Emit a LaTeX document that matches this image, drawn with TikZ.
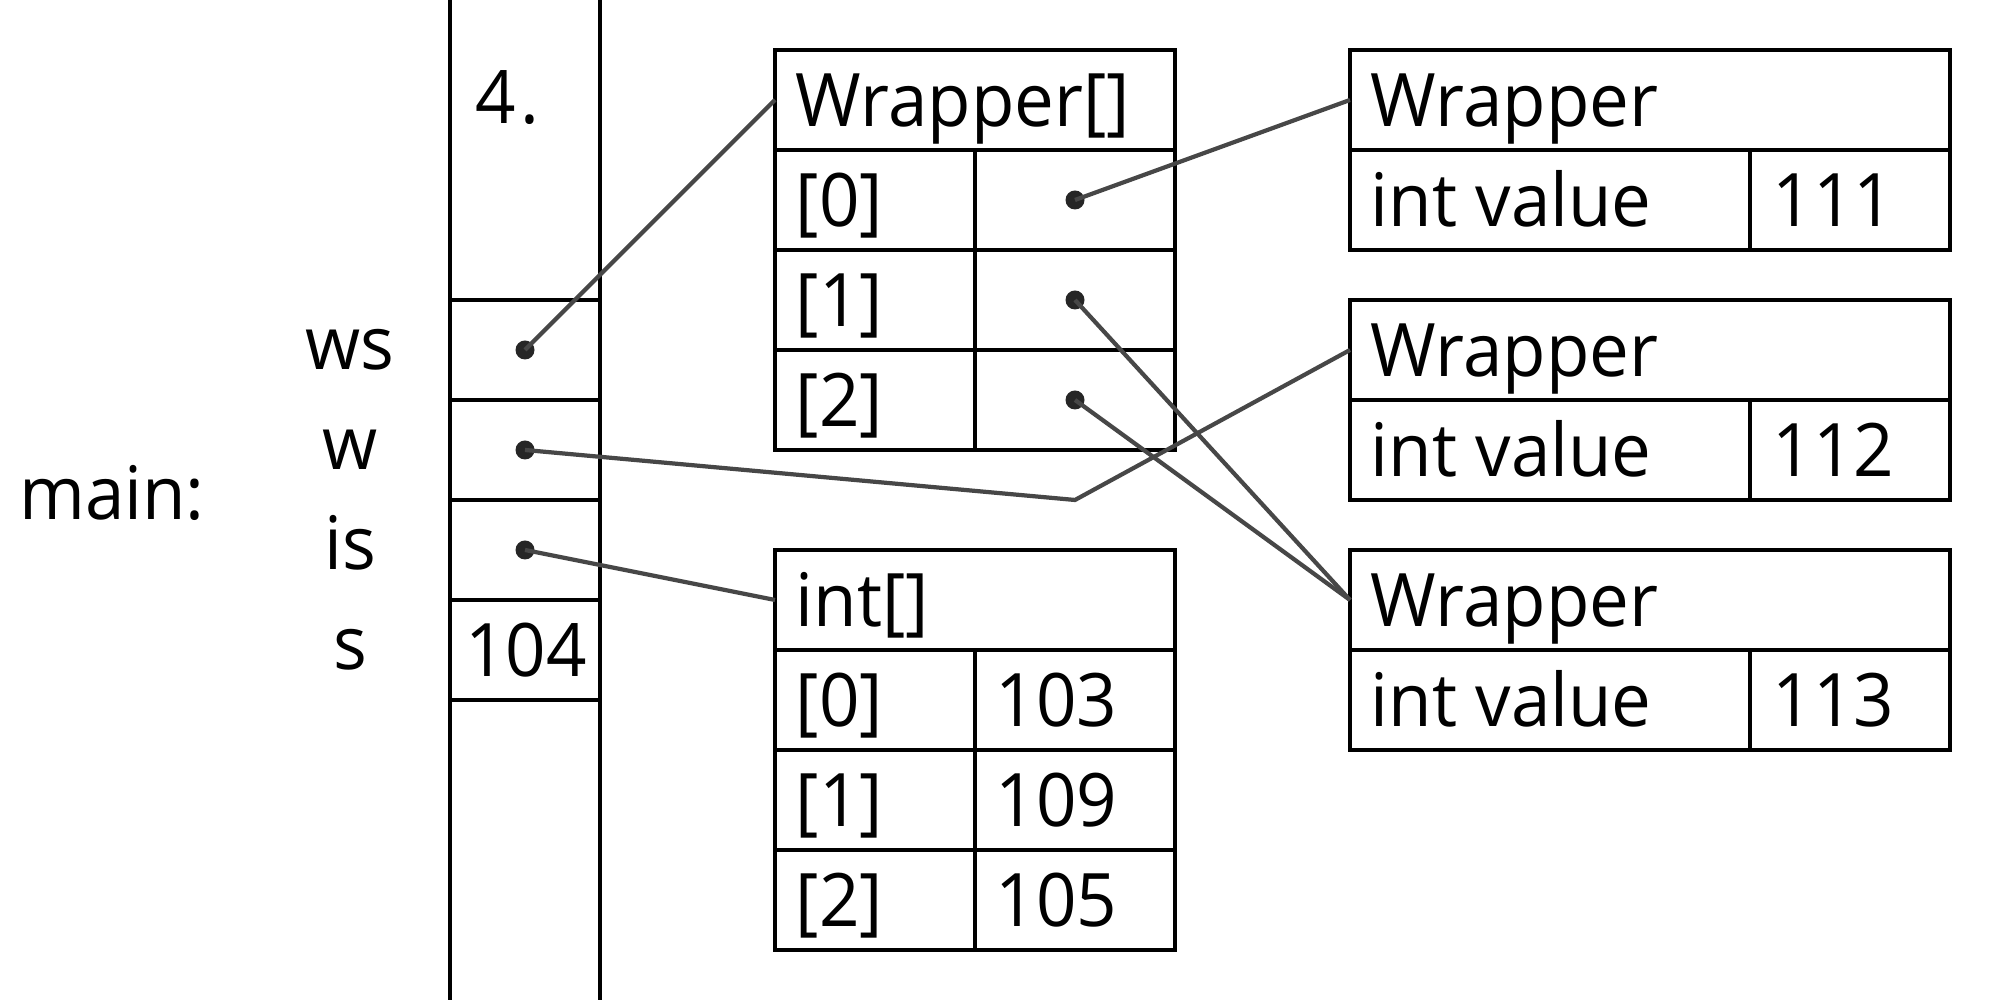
\documentclass[tikz,border=0pt]{standalone}
\usepackage{fontspec}
\setmainfont{Open Sans}[FakeStretch=0.96]
\begin{document}
\begin{tikzpicture}[
  box/.style={draw=black, line width=1.35pt, minimum width=#1, minimum height=1cm, inner sep=0pt, outer sep=0pt},
  box/.default=4cm,
  txt/.style={font=\fontsize{21}{25}\selectfont, inner sep=0pt, text height=15pt, text depth=0pt, anchor=west},
  xlab/.style={font=\fontsize{21}{25}\selectfont, inner sep=0pt, text height=11.2pt, text depth=0pt, anchor=center},
  ptdot/.style={circle, fill=black!85, draw=none, inner sep=0pt, minimum size=0.19cm},
  ptr/.style={draw=black!72, line width=1.2pt}
]
\useasboundingbox (0,0) rectangle (20,10);

% stack frame
\draw[line width=1.35pt] (4.5,0) -- (4.5,10);
\draw[line width=1.35pt] (6,0) -- (6,10);
\node[box=1.5cm] (sws) at (5.25,6.5) {};
\node[box=1.5cm] (sw)  at (5.25,5.5) {};
\node[box=1.5cm] (sis) at (5.25,4.5) {};
\node[box=1.5cm] (ss)  at (5.25,3.5) {};
\node[txt] (frame) at (4.75,9.03) {4\kern0.06em.};
\node[txt, anchor=center] (vs) at (5.26,3.5) {104};

\node[xlab] (lmain) at (1.12,5) {main:};
\node[xlab] (lws) at (3.5,6.5) {ws};
\node[xlab] (lw)  at (3.5,5.5) {w};
\node[xlab] (lis) at (3.5,4.5) {is};
\node[xlab] (ls)  at (3.5,3.5) {s};

% Wrapper[] array
\node[box=4cm] (wat) at (9.75,9) {};
\node[txt] (watx) at (7.95,9) {Wrapper[]};
\node[box=2cm] (wak0) at (8.75,8) {};
\node[box=2cm] (wav0) at (10.75,8) {};
\node[box=2cm] (wak1) at (8.75,7) {};
\node[box=2cm] (wav1) at (10.75,7) {};
\node[box=2cm] (wak2) at (8.75,6) {};
\node[box=2cm] (wav2) at (10.75,6) {};
\node[txt] (wak0x) at (7.95,8) {[0]};
\node[txt] (wak1x) at (7.95,7) {[1]};
\node[txt] (wak2x) at (7.95,6) {[2]};

% int[] array
\node[box=4cm] (iat) at (9.75,4) {};
\node[txt] (iatx) at (7.95,4) {int[]};
\node[box=2cm] (iak0) at (8.75,3) {};
\node[box=2cm] (iav0) at (10.75,3) {};
\node[box=2cm] (iak1) at (8.75,2) {};
\node[box=2cm] (iav1) at (10.75,2) {};
\node[box=2cm] (iak2) at (8.75,1) {};
\node[box=2cm] (iav2) at (10.75,1) {};
\node[txt] (iak0x) at (7.95,3) {[0]};
\node[txt] (iak1x) at (7.95,2) {[1]};
\node[txt] (iak2x) at (7.95,1) {[2]};
\node[txt] (iav0x) at (9.95,3) {103};
\node[txt] (iav1x) at (9.95,2) {109};
\node[txt] (iav2x) at (9.95,1) {105};

% Wrapper objects
\node[box=6cm] (w1t) at (16.5,9) {};
\node[box=4cm] (w1f) at (15.5,8) {};
\node[box=2cm] (w1v) at (18.5,8) {};
\node[txt] (w1tx) at (13.7,9) {Wrapper};
\node[txt] (w1fx) at (13.7,8) {int value};
\node[txt] (w1vx) at (17.72,8) {111};

\node[box=6cm] (w2t) at (16.5,6.5) {};
\node[box=4cm] (w2f) at (15.5,5.5) {};
\node[box=2cm] (w2v) at (18.5,5.5) {};
\node[txt] (w2tx) at (13.7,6.5) {Wrapper};
\node[txt] (w2fx) at (13.7,5.5) {int value};
\node[txt] (w2vx) at (17.72,5.5) {112};

\node[box=6cm] (w3t) at (16.5,4) {};
\node[box=4cm] (w3f) at (15.5,3) {};
\node[box=2cm] (w3v) at (18.5,3) {};
\node[txt] (w3tx) at (13.7,4) {Wrapper};
\node[txt] (w3fx) at (13.7,3) {int value};
\node[txt] (w3vx) at (17.72,3) {113};

% pointer dots
\node[ptdot] (dws) at (5.25,6.5) {};
\node[ptdot] (dw)  at (5.25,5.5) {};
\node[ptdot] (dis) at (5.25,4.5) {};
\node[ptdot] (d0) at (10.75,8) {};
\node[ptdot] (d1) at (10.75,7) {};
\node[ptdot] (d2) at (10.75,6) {};
\coordinate (bend) at (10.75,5);

% connectors
\draw[ptr] (dws.center) -- (wat.west);
\draw[ptr] (dw.center) -- (bend) -- (w2t.west);
\draw[ptr] (dis.center) -- (iat.west);
\draw[ptr] (d0.center) -- (w1t.west);
\draw[ptr] (d1.center) -- (w3t.west);
\draw[ptr] (d2.center) -- (w3t.west);
\end{tikzpicture}
\end{document}
